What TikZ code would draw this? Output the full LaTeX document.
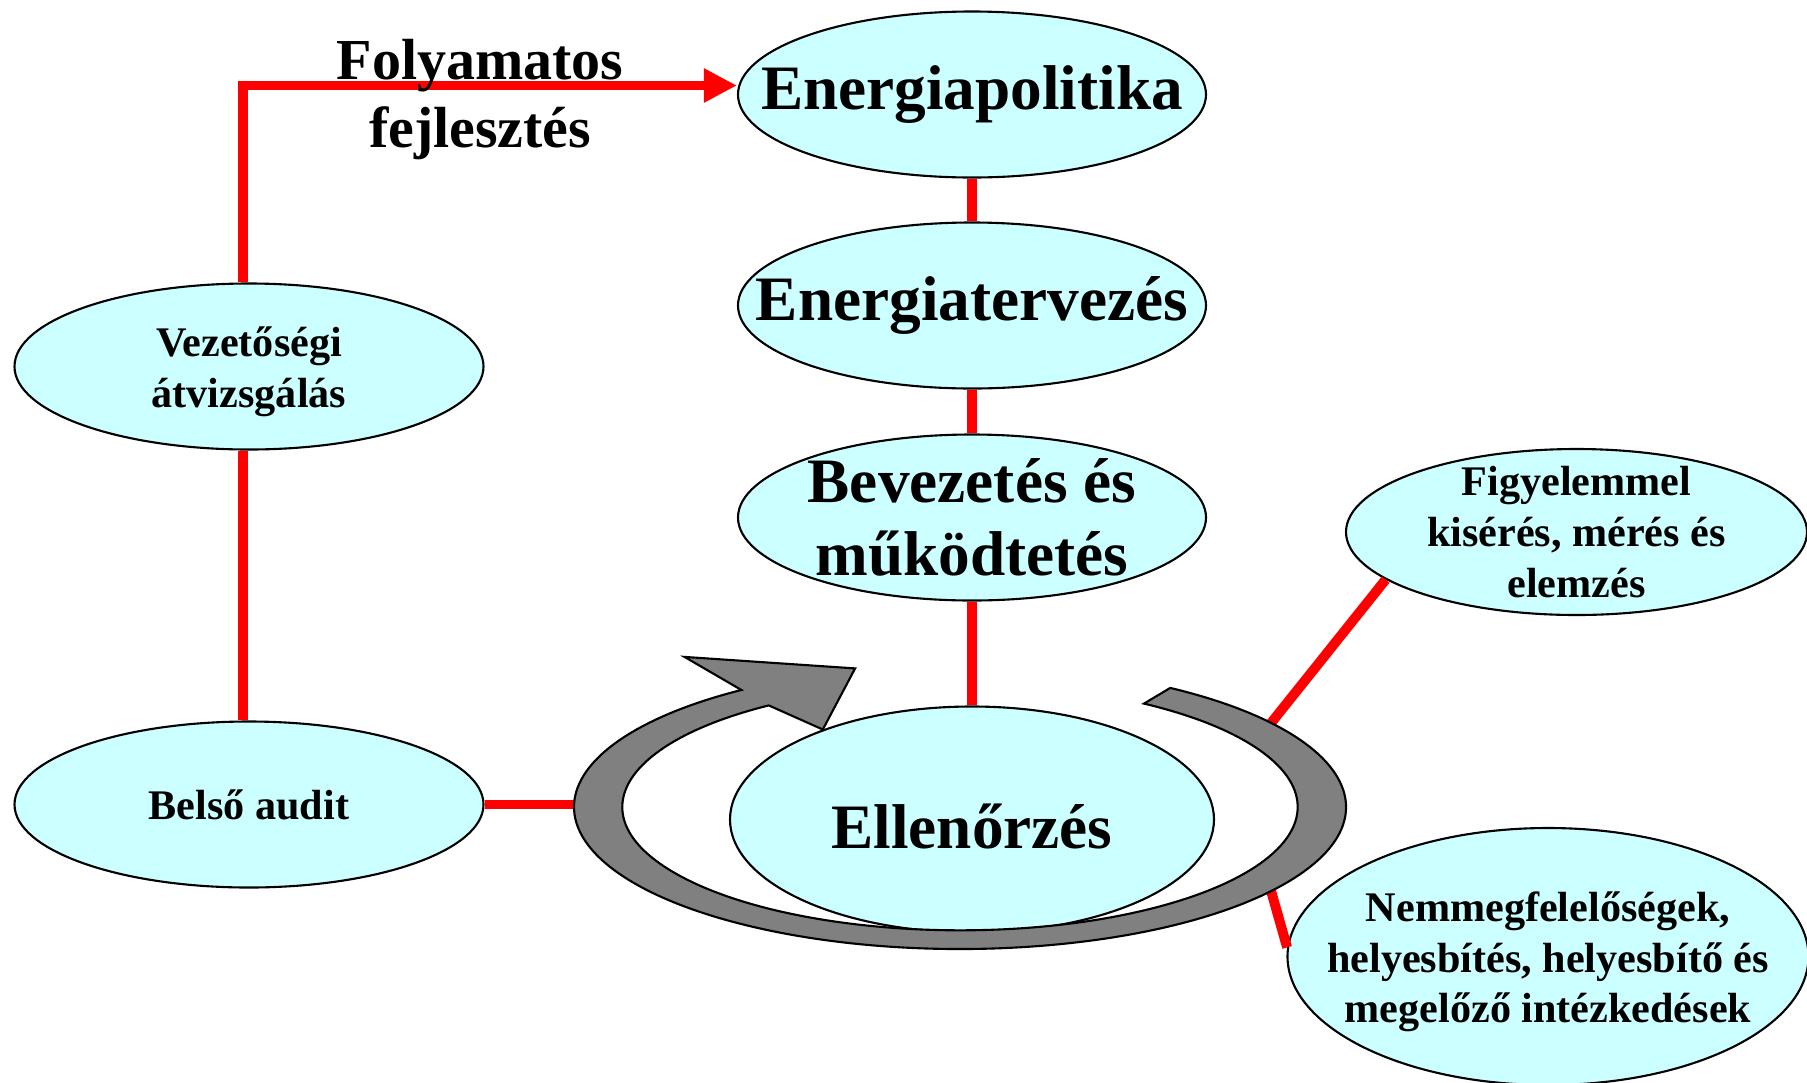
\documentclass[tikz,border=0pt]{standalone}
\usepackage{fontspec}
\setmainfont{Liberation Serif}
\usepackage{xcolor}
\usetikzlibrary{arrows.meta,positioning,shapes.geometric}
\definecolor{ovalcyan}{HTML}{CCFFFF}
\definecolor{ringgray}{HTML}{808080}

\begin{document}
\begin{tikzpicture}[
  on grid,
  >={Triangle[length=3.3mm,width=3.2mm]},
  every node/.style={font=\bfseries},
  oval/.style={ellipse,draw=black,line width=0.6pt,fill=ovalcyan,inner sep=0pt},
  big oval/.style={oval,minimum width=4.68cm,minimum height=1.66cm},
  small oval/.style={oval,minimum width=4.69cm,minimum height=1.66cm},
  big font/.style={font=\bfseries\fontsize{18}{20.7}\selectfont,align=center},
  small font/.style={font=\bfseries\fontsize{12}{14.4}\selectfont,align=center},
  big text/.style={label={[big font]center:#1}},
  small text/.style={label={[small font]center:#1}},
  flow text/.style={font=\bfseries\fontsize{16.5}{19.6}\selectfont,align=center,inner sep=0pt},
  link/.style={draw=red,line width=2.8pt},
  ring/.style={fill=ringgray,draw=black,line width=0.6pt}
  ]
  \useasboundingbox (0,0) rectangle (18.07,-10.82);
  % main chain
  \node [big oval,big text=Energiapolitika] (epol) at (9.72,-0.945) {};
  \node [big oval,big text=Energiatervezés] (eterv) [below=2.11cm of epol] {};
  \node [big oval,big text={Bevezetés és\\működtetés}] (bev) [below=2.12cm of eterv] {};
  \node [oval,minimum width=4.84cm,minimum height=2.26cm,
    label={[big font,yshift=-0.7mm]center:Ellenőrzés}] (ell) [below=3.02cm of bev] {};
  % left side
  \node [small oval,label={[small font,yshift=-0.5mm]center:Vezetőségi\\átvizsgálás}] (vez) at (2.49,-3.665) {};
  \node [small oval,small text={Belső audit}] (bel) [below=4.38cm of vez] {};
  % right side
  \node [oval,minimum width=4.61cm,minimum height=1.66cm,
    small text={Figyelemmel\\kisérés, mérés és\\elemzés}] (figy) at (15.765,-5.32) {};
  \node [oval,minimum width=5.21cm,minimum height=2.57cm,
    label={[small font,yshift=-0.55mm]center:Nemmegfelelőségek,\\helyesbítés, helyesbítő és\\megelőző intézkedések}] (nemm) at (15.48,-9.565) {};
  % ring anchors
  \coordinate (ring) at (9.60,-8.07);
  \begin{scope}[shift={(ring)}]
    \coordinate (ringW) at (180:3.86cm and 1.42cm);
    \coordinate (ringNE) at (36.3:3.86cm and 1.42cm);
    \coordinate (ringSE) at (-36.3:3.86cm and 1.42cm);
  \end{scope}
  % connectors
  \draw [link,->] ([xshift=-0.6mm]vez.north) |- ([yshift=0.9mm]epol.west)
    node [flow text,pos=0.74,yshift=-1.4mm] (fejl) {Folyamatos\\fejlesztés};
  \draw [link] ([xshift=-0.6mm]vez.south) -- ([xshift=-0.6mm]bel.north);
  \draw [link] (epol.south) -- (eterv.north);
  \draw [link] (eterv.south) -- (bev.north);
  \draw [link] (bev.south) -- (ell.north);
  \draw [link] (bel.east) -- (bel.east -| ringW);
  \draw [link] (ringNE) -- (figy.194);
  \draw [link] (ringSE) -- (nemm.178);
  % circular arrow
  \begin{scope}[shift={(ring)}]
    \filldraw [ring] (57:3.86cm and 1.42cm)
      arc [start angle=57,end angle=-235.5,x radius=3.86cm,y radius=1.42cm]
      -- (-2.755,1.501) -- (-1.049,1.386) -- (-1.372,0.775)
      -- (124.5:3.377cm and 1.233cm)
      arc [start angle=124.5,end angle=417,x radius=3.377cm,y radius=1.233cm]
      -- cycle;
  \end{scope}
\end{tikzpicture}
\end{document}
